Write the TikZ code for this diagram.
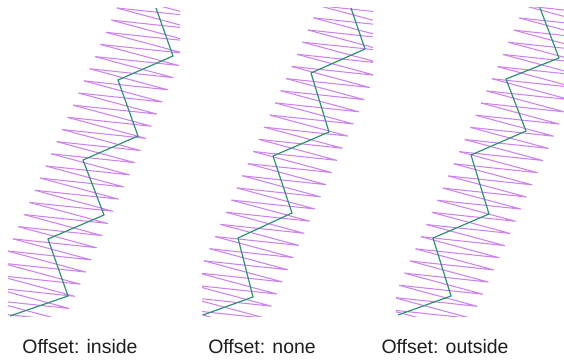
\documentclass[tikz,border=0pt]{standalone}
\usepackage{fontspec}
\setmainfont{Liberation Sans}
\definecolor{satin}{RGB}{206,130,240}
\definecolor{run}{RGB}{44,146,112}
\definecolor{caption}{RGB}{30,30,30}

\begin{document}
\begin{tikzpicture}[x=0.75pt, y=-0.75pt,
	every node/.style={font=\fontsize{14.6}{16}\selectfont, text=caption, inner sep=0pt},
	stitch/.style={draw=satin, line width=0.8pt, line join=round},
	runline/.style={draw=run, line width=0.9pt, line join=miter}]
	\useasboundingbox (0,0) rectangle (564,360);
	% satin bands: shift of the band, phase of the needle points, clip box
	\foreach \px/\ph/\cl/\cr in {0/8/8/180, 201/5.7/202/373, 407/5.85/396/568} {
		\begin{scope}
			\clip (\cl,8) rectangle (\cr,316);
			\foreach \i in {-2,...,27} {
				\pgfmathsetmacro\ya{\ph+12.15*\i}
				\pgfmathsetmacro\yb{\ya+21}
				\pgfmathsetmacro\yc{\ya+12.15}
				\draw[stitch] ({\px+120.5-0.45*\ya},\ya) -- ({\px+208-0.45*\yb},\yb) -- ({\px+120.5-0.45*\yc},\yc);
			}
		\end{scope}
	}
	% running stitch
	\draw[runline] (156,8) -- (173,56) -- (118,80) -- (138,136) -- (83,160) -- (104,215) -- (48,239) -- (68,296) -- (10,316);
	\draw[runline] (351,8) -- (365,49) -- (311,73) -- (329,132) -- (273,156) -- (292,213) -- (238,238) -- (253,297) -- (203,315);
	\draw[runline] (540,8) -- (559,58) -- (506,79) -- (526,131) -- (471,155) -- (489,214) -- (433,238) -- (451,296) -- (398,315);
	% captions
	\node[anchor=base] (inside) at (80,353) {Offset: inside};
	\node[anchor=base] (none) at (262,353) {Offset: none};
	\node[anchor=base] (outside) at (445,353) {Offset: outside};
\end{tikzpicture}
\end{document}
